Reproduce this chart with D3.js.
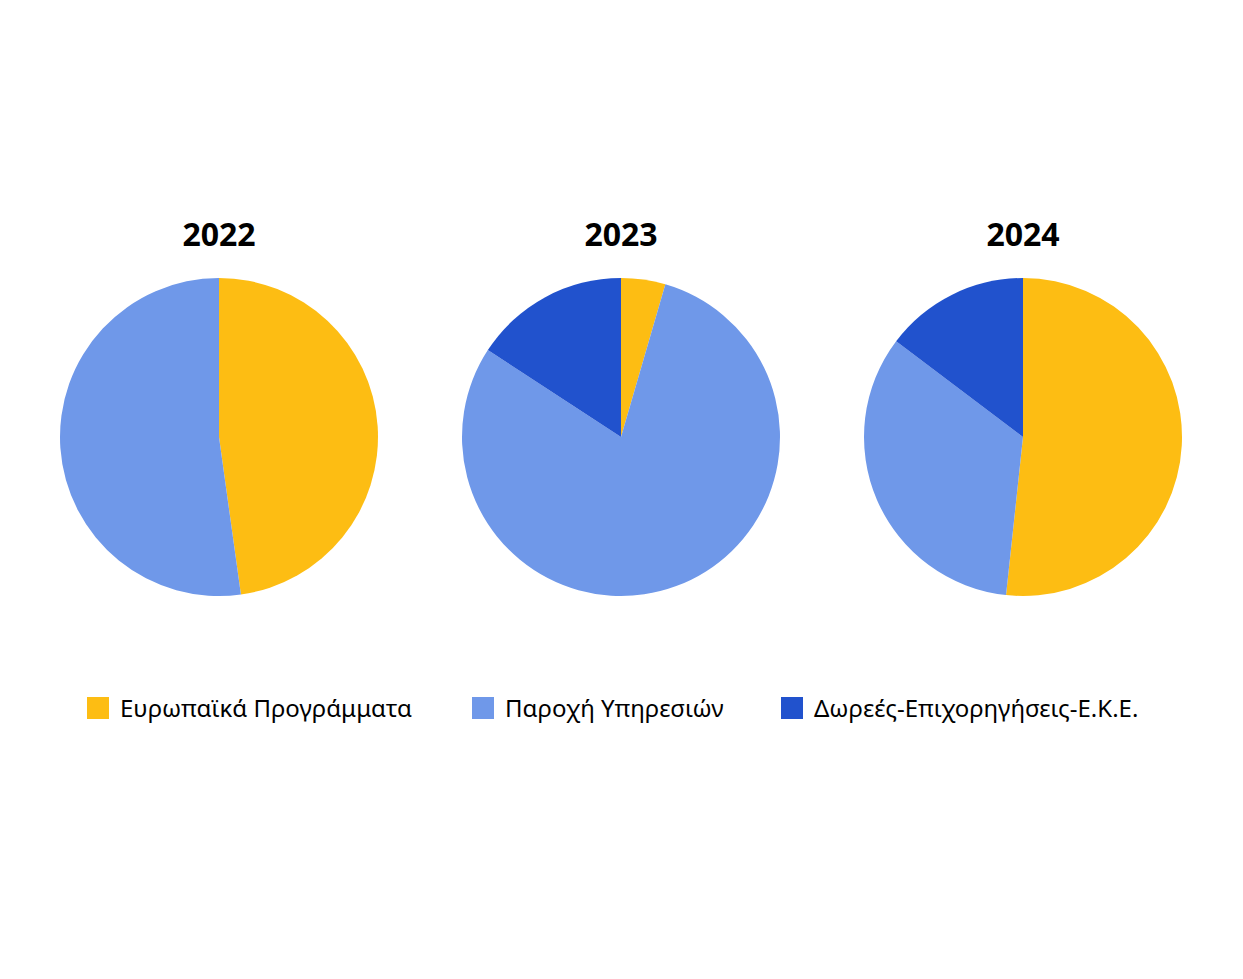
<!DOCTYPE html>
<html>
<head>
<meta charset="utf-8">
<script src="https://cdn.jsdelivr.net/npm/d3@7"></script>
<style>
body{margin:0;background:#fff;font-family:"Noto Sans",sans-serif;}
</style>
</head>
<body>
<svg id="chart" width="1243" height="979"></svg>
<script>
// data
var years = ["2022", "2023", "2024"]
var categories = ["Ευρωπαϊκά Προγράμματα", "Παροχή Υπηρεσιών", "Δωρεές-Επιχορηγήσεις-Ε.Κ.Ε."]
var colors = ["#fdbd13", "#6f98e9", "#2152cd"]
var values2022 = [47.8, 52.2, 0]
var values2023 = [4.5, 79.7, 15.8]
var values2024 = [51.7, 33.6, 14.7]
var allValues = [values2022, values2023, values2024]

var svg = d3.select("#chart")
var radius = 159

var x = d3.scalePoint().domain(years).range([219, 1023])

var pie = d3.pie().sort(null).value(function(d){return d})
var arc = d3.arc().innerRadius(0).outerRadius(radius)

years.forEach(function(year, i)
{
    var g = svg.append("g")
      .attr("transform", "translate(" + x(year) + ",437)")

    g.selectAll("path")
      .data(pie(allValues[i]))
      .enter()
      .append("path")
      .attr("d", arc)
      .attr("fill", function(d, j){return colors[j]})

    svg.append("text")
      .attr("x", x(year))
      .attr("y", 246)
      .attr("text-anchor", "middle")
      .attr("font-size", 32)
      .attr("font-weight", "bold")
      .text(year)
})

var legendX = [87, 472, 781]
var legend = svg.selectAll(".legend")
  .data(categories)
  .enter()
  .append("g")
  .attr("class", "legend")
  .attr("transform", function(d, i){return "translate(" + legendX[i] + ",697)"})

legend.append("rect")
  .attr("width", 22)
  .attr("height", 22)
  .attr("fill", function(d, i){return colors[i]})

legend.append("text")
  .attr("x", 33)
  .attr("y", 20)
  .attr("font-size", 24)
  .text(function(d){return d})
</script>
</body>
</html>
